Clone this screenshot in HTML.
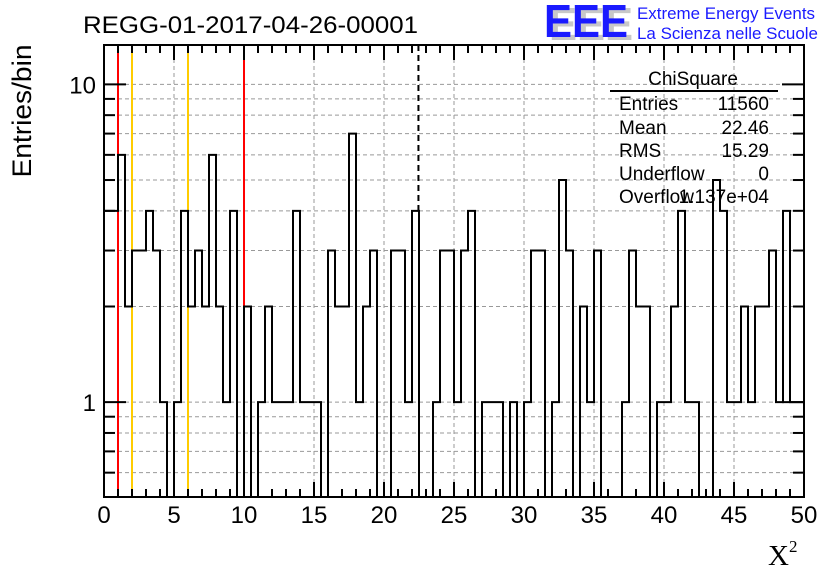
<!DOCTYPE html>
<html><head><meta charset="utf-8"><style>
html,body{margin:0;padding:0;background:#fff;}
svg{display:block;font-family:"Liberation Sans",sans-serif;}
</style></head><body>
<svg id="chart" width="836" height="572" viewBox="0 0 836 572" xmlns="http://www.w3.org/2000/svg">
<rect x="0" y="0" width="836" height="572" fill="#fff"/>
<g id="grid"></g>
<g id="vlines"></g>
<g id="hist"></g>
<g id="axes"></g>
<text x="83" y="33" font-size="24" textLength="335" lengthAdjust="spacingAndGlyphs">REGG-01-2017-04-26-00001</text>
<g>
<text x="549" y="40" font-size="46" font-weight="bold" fill="#c8c8c8" textLength="84" lengthAdjust="spacingAndGlyphs">EEE</text>
<text x="544" y="37" font-size="46" font-weight="bold" fill="#1a1aff" textLength="84" lengthAdjust="spacingAndGlyphs">EEE</text>
<text x="637" y="19" font-size="16.5" fill="#1a1aff" textLength="178" lengthAdjust="spacingAndGlyphs">Extreme Energy Events</text>
<text x="637" y="39" font-size="16.5" fill="#1a1aff" textLength="181" lengthAdjust="spacingAndGlyphs">La Scienza nelle Scuole</text>
</g>
<g font-size="19">
<text x="693" y="85" text-anchor="middle">ChiSquare</text>
<line x1="610" y1="91" x2="778" y2="91" stroke="#000" stroke-width="2"/>
<text x="619" y="110">Entries</text><text x="769" y="110" text-anchor="end">11560</text>
<text x="619" y="134">Mean</text><text x="769" y="134" text-anchor="end">22.46</text>
<text x="619" y="157">RMS</text><text x="769" y="157" text-anchor="end">15.29</text>
<text x="619" y="180">Underflow</text><text x="769" y="180" text-anchor="end">0</text>
<text x="619" y="203">Overflow</text><text x="769" y="203" text-anchor="end">1.137e+04</text>
</g>
<text transform="translate(31,111) rotate(-90)" text-anchor="middle" font-size="27" textLength="133" lengthAdjust="spacingAndGlyphs">Entries/bin</text>
<text x="768" y="565" font-size="29" font-family="Liberation Serif, serif">X<tspan font-size="17" dy="-13">2</tspan></text>
</svg>
<script>
const counts = [4,4,6,2,3,3,4,3,1,0, 1,4,2,3,2,6,2,1,4,0, 2,0,1,2,1,1,1,4,1,1, 1,0,3,2,2,7,1,2,3,0, 0,3,3,1,4,0,0,1,3,3, 1,3,4,0,1,1,1,0,1,0, 1,3,3,0,1,5,3,0,2,1, 3,0,0,0,1,3,2,2,0,1, 1,2,4,1,1,0,0,5,4,1, 1,2,1,2,2,3,1,4,1,1];
const binWidth = 0.5;
const xTickLabels = ["0","5","10","15","20","25","30","35","40","45","50"];
const yTickLabels = ["1","10"];
const redLines = [1,10];
const orangeLines = [2,6];
const meanValue = 22.46;

const X0=104,X1=804,Y0=45,Y1=497, XMIN=0,XMAX=50, YMIN=0.503, YMAX=13.3;
const NS='http://www.w3.org/2000/svg';
function sx(v){return X0+(v-XMIN)/(XMAX-XMIN)*(X1-X0);}
function sy(v){if(v<=YMIN) return Y1; const l=Math.log10(v);return Y1-(l-Math.log10(YMIN))/(Math.log10(YMAX)-Math.log10(YMIN))*(Y1-Y0);}
function mk(tag,attrs,parent){const e=document.createElementNS(NS,tag);for(const k in attrs)e.setAttribute(k,attrs[k]);parent.appendChild(e);return e;}
const grid=document.getElementById('grid'),axes=document.getElementById('axes'),hist=document.getElementById('hist'),vl=document.getElementById('vlines');
for(let i=1;i<xTickLabels.length-1;i++){const v=+xTickLabels[i];
 const g=mk('line',{x1:sx(v),x2:sx(v),y1:Y0,y2:Y1,stroke:'#999','stroke-dasharray':'4,3','stroke-width':1},grid);
 
 }
const yGrid=[0.6,0.7,0.8,0.9,1,2,3,4,5,6,7,8,9,10];
yGrid.forEach(v=>{const g=mk('line',{x1:X0,x2:X1,y1:sy(v),y2:sy(v),stroke:'#999','stroke-dasharray':'4,3','stroke-width':1},grid);
 
 });
let d='M'+X0+','+sy(counts[0]);
for(let i=0;i<counts.length;i++){const xa=sx(i*binWidth),xb=sx((i+1)*binWidth),y=sy(counts[i]);
 d+=' L'+xa+','+y+' L'+xb+','+y;}
const hp=mk('path',{d:d,fill:'none',stroke:'#000','stroke-width':2},hist);


redLines.forEach(v=>{const l=mk('line',{x1:sx(v),x2:sx(v),y1:Y0,y2:Y1,stroke:'#f00','stroke-width':2},vl);
 
 });
orangeLines.forEach(v=>{const l=mk('line',{x1:sx(v),x2:sx(v),y1:Y0,y2:Y1,stroke:'#fc0','stroke-width':2},vl);
 
 });
const mb=Math.min(counts.length-1,Math.floor(meanValue/binWidth));
const ml=mk('line',{x1:sx(meanValue),x2:sx(meanValue),y1:Y0,y2:sy(counts[mb]),stroke:'#000','stroke-width':2,'stroke-dasharray':'6,4'},vl);


const fr=mk('rect',{x:X0,y:Y0,width:X1-X0,height:Y1-Y0,fill:'none',stroke:'#000','stroke-width':2},axes);


for(let v=XMIN;v<=XMAX;v++){const major=v%5===0,len=major?15:8,x=sx(v);
 const t1=mk('line',{x1:x,x2:x,y1:Y1,y2:Y1-len,stroke:'#000','stroke-width':2},axes);
 
 
 const t2=mk('line',{x1:x,x2:x,y1:Y0,y2:Y0+len,stroke:'#000','stroke-width':2},axes);
 
 }
xTickLabels.forEach(s=>{const t=mk('text',{x:sx(+s),y:523,'text-anchor':'middle','font-size':24},axes);t.textContent=s;
 
 });
const yTicks=[0.6,0.7,0.8,0.9,1,2,3,4,5,6,7,8,9,10];
yTicks.forEach(v=>{const major=(v===1||v===10),len=major?22:11,y=sy(v);
 const t1=mk('line',{x1:X0,x2:X0+len,y1:y,y2:y,stroke:'#000','stroke-width':2},axes);
 
 
 const t2=mk('line',{x1:X1,x2:X1-len,y1:y,y2:y,stroke:'#000','stroke-width':2},axes);
 
 });
yTickLabels.forEach(s=>{const t=mk('text',{x:96,y:sy(+s)+9,'text-anchor':'end','font-size':24},axes);t.textContent=s;
 
 });
</script>
</body></html>
